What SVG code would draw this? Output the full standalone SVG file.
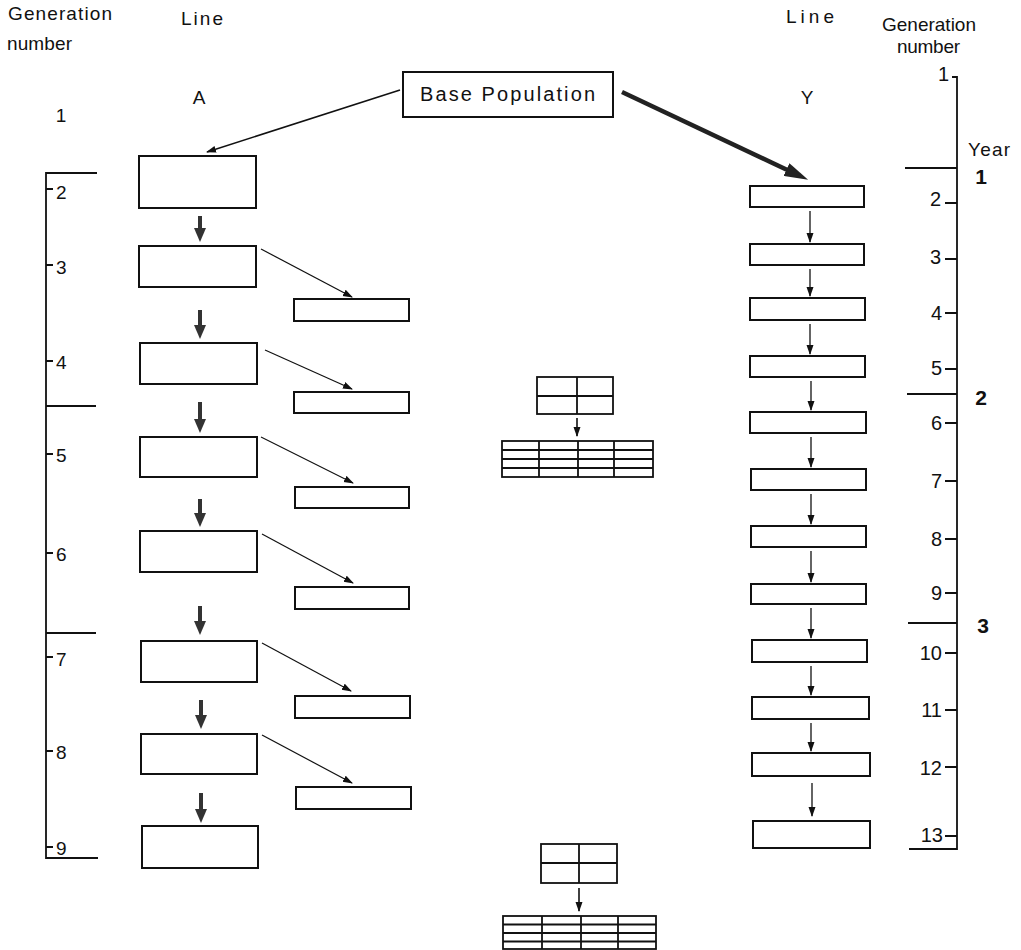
<svg xmlns="http://www.w3.org/2000/svg" width="1021" height="950" viewBox="0 0 1021 950">
<style>
.t{font-family:"Liberation Sans",Arial,sans-serif;fill:#111}
.lab{font-size:19px}
.num{font-size:19px}
.bold{font-size:21px;font-weight:bold}
.box{fill:#fff;stroke:#111;stroke-width:2}
.ax{stroke:#111;stroke-width:1.8;fill:none}
.thin{stroke:#111;stroke-width:1.2;fill:none}
.thick{stroke:#333;stroke-width:4;fill:none}
.grid{stroke:#111;stroke-width:1.8;fill:none}
</style>
<defs>
<marker id="mThin" markerUnits="userSpaceOnUse" markerWidth="10" markerHeight="8" refX="9" refY="3.5" orient="auto"><path d="M0,0 L10,3.5 L0,7 z" fill="#111"/></marker>
<marker id="mThick" markerUnits="userSpaceOnUse" markerWidth="14" markerHeight="12" refX="9" refY="6" orient="auto"><path d="M0,0 L14,6 L0,12 z" fill="#333"/></marker>
<marker id="mBig" markerUnits="userSpaceOnUse" markerWidth="24" markerHeight="14" refX="15" refY="7" orient="auto"><path d="M0,0 L24,7 L0,14 z" fill="#222"/></marker>
</defs>
<rect width="1021" height="950" fill="#fff"/>

<g id="headings">
<text class="t lab" x="8" y="20" textLength="104" lengthAdjust="spacing">Generation</text>
<text class="t lab" x="7" y="50" textLength="65" lengthAdjust="spacing">number</text>
<text class="t lab" x="181" y="25" textLength="42" lengthAdjust="spacing">Line</text>
<text class="t lab" x="199" y="104" text-anchor="middle">A</text>
<text class="t num" x="61" y="122" text-anchor="middle">1</text>
<text class="t lab" x="786" y="23" textLength="48" lengthAdjust="spacing">Line</text>
<text class="t lab" x="882" y="31" textLength="94" lengthAdjust="spacing">Generation</text>
<text class="t lab" x="897" y="53" textLength="63" lengthAdjust="spacing">number</text>
<text class="t lab" x="807" y="104" text-anchor="middle">Y</text>
<text class="t lab" x="968" y="156" textLength="42" lengthAdjust="spacing">Year</text>
<text class="t bold" x="981" y="184" text-anchor="middle">1</text>
<text class="t bold" x="981" y="405" text-anchor="middle">2</text>
<text class="t bold" x="983" y="633" text-anchor="middle">3</text>
</g>

<g id="base">
<rect class="box" x="403" y="72" width="210" height="45"/>
<text class="t" style="font-size:20px" x="420" y="101" textLength="175" lengthAdjust="spacing">Base Population</text>
</g>

<g id="left-axis">
<path class="ax" d="M97,173 H46 V858 H98 M46,406 H96 M46,633 H96"/>
<path class="ax" d="M46,189 H53 M46,265 H53 M46,361 H53 M46,454 H53 M46,553 H53 M46,657 H53 M46,751 H53 M46,847 H53"/>
<text class="t num" x="56" y="199">2</text>
<text class="t num" x="56" y="274">3</text>
<text class="t num" x="56" y="369">4</text>
<text class="t num" x="56" y="462">5</text>
<text class="t num" x="56" y="561">6</text>
<text class="t num" x="56" y="666">7</text>
<text class="t num" x="56" y="759">8</text>
<text class="t num" x="56" y="855">9</text>
</g>

<g id="right-axis">
<path class="ax" d="M952,77 H957 V849 H909 M905,168 H957 M907,394 H957 M908,623 H957"/>
<path class="ax" d="M945,203 H957 M945,259 H957 M945,313 H957 M945,369 H957 M945,423 H957 M945,481 H957 M945,539 H957 M945,593 H957 M945,653 H957 M945,710 H957 M945,767 H957 M945,836 H957"/>
<g class="t" style="font-size:20px" text-anchor="end">
<text x="949" y="81">1</text>
<text x="941" y="206">2</text>
<text x="941" y="264">3</text>
<text x="942" y="320">4</text>
<text x="942" y="375">5</text>
<text x="942" y="430">6</text>
<text x="942" y="488">7</text>
<text x="942" y="546">8</text>
<text x="942" y="600">9</text>
<text x="942" y="660">10</text>
<text x="942" y="717">11</text>
<text x="942" y="775">12</text>
<text x="943" y="842">13</text>
</g>
</g>

<g id="lineA">
<rect id="A2" class="box" x="139" y="156" width="117" height="52"/>
<rect id="A3" class="box" x="139" y="246" width="117" height="41"/>
<rect id="A4" class="box" x="140" y="343" width="117" height="41"/>
<rect id="A5" class="box" x="140" y="437" width="117" height="40"/>
<rect id="A6" class="box" x="140" y="531" width="117" height="41"/>
<rect id="A7" class="box" x="141" y="641" width="116" height="41"/>
<rect id="A8" class="box" x="141" y="734" width="116" height="40"/>
<rect id="A9" class="box" x="142" y="826" width="116" height="42"/>
</g>

<g id="side">
<rect id="S3" class="box" x="294" y="299" width="115" height="22"/>
<rect id="S4" class="box" x="294" y="392" width="115" height="21"/>
<rect id="S5" class="box" x="295" y="487" width="114" height="21"/>
<rect id="S6" class="box" x="295" y="587" width="114" height="22"/>
<rect id="S7" class="box" x="295" y="696" width="115" height="22"/>
<rect id="S8" class="box" x="296" y="787" width="115" height="22"/>
</g>

<g id="lineY">
<rect id="Y2" class="box" x="750" y="186" width="114" height="21"/>
<rect id="Y3" class="box" x="750" y="244" width="114" height="21"/>
<rect id="Y4" class="box" x="750" y="298" width="115" height="22"/>
<rect id="Y5" class="box" x="750" y="356" width="115" height="21"/>
<rect id="Y6" class="box" x="750" y="412" width="116" height="21"/>
<rect id="Y7" class="box" x="751" y="469" width="115" height="21"/>
<rect id="Y8" class="box" x="751" y="526" width="115" height="21"/>
<rect id="Y9" class="box" x="751" y="584" width="115" height="20"/>
<rect id="Y10" class="box" x="752" y="640" width="115" height="22"/>
<rect id="Y11" class="box" x="752" y="697" width="117" height="22"/>
<rect id="Y12" class="box" x="752" y="753" width="118" height="23"/>
<rect id="Y13" class="box" x="753" y="821" width="117" height="27"/>
</g>

<g id="grid1">
<rect class="grid" x="537" y="377" width="76" height="37"/>
<path class="grid" d="M577,377 V414 M537,396 H613"/>
<rect class="grid" x="502" y="441" width="151" height="36"/>
<path class="grid" d="M539,441 V477 M578,441 V477 M614,441 V477 M502,450 H653 M502,459 H653 M502,468 H653"/>
</g>
<g id="grid2">
<rect class="grid" x="541" y="844" width="76" height="39"/>
<path class="grid" d="M579,844 V883 M541,863 H617"/>
<rect class="grid" x="503" y="916" width="153" height="33"/>
<path class="grid" d="M542,916 V949 M581,916 V949 M618,916 V949 M503,924.5 H656 M503,933 H656 M503,941.5 H656"/>
</g>

<g id="connectors">
<line class="thin" style="stroke-width:1.6" x1="400" y1="90" x2="207" y2="152" marker-end="url(#mThin)"/>
<line class="thick" style="stroke:#222;stroke-width:4.5" x1="622" y1="92" x2="800" y2="176" marker-end="url(#mBig)"/>

<line class="thick" x1="200" y1="216" x2="200" y2="237" marker-end="url(#mThick)"/>
<line class="thick" x1="200" y1="310" x2="200" y2="334" marker-end="url(#mThick)"/>
<line class="thick" x1="200" y1="402" x2="200" y2="428" marker-end="url(#mThick)"/>
<line class="thick" x1="200" y1="499" x2="200" y2="522" marker-end="url(#mThick)"/>
<line class="thick" x1="200" y1="606" x2="200" y2="630" marker-end="url(#mThick)"/>
<line class="thick" x1="201" y1="700" x2="201" y2="724" marker-end="url(#mThick)"/>
<line class="thick" x1="201" y1="793" x2="201" y2="818" marker-end="url(#mThick)"/>

<line class="thin" x1="261" y1="249" x2="352" y2="297" marker-end="url(#mThin)"/>
<line class="thin" x1="265" y1="350" x2="352" y2="389" marker-end="url(#mThin)"/>
<line class="thin" x1="261" y1="437" x2="353" y2="483" marker-end="url(#mThin)"/>
<line class="thin" x1="262" y1="534" x2="353" y2="583" marker-end="url(#mThin)"/>
<line class="thin" x1="262" y1="643" x2="351" y2="691" marker-end="url(#mThin)"/>
<line class="thin" x1="262" y1="735" x2="352" y2="783" marker-end="url(#mThin)"/>

<g class="thin" style="stroke-width:1.3">
<line x1="810" y1="211" x2="810" y2="242" marker-end="url(#mThin)"/>
<line x1="810" y1="269" x2="810" y2="296" marker-end="url(#mThin)"/>
<line x1="810" y1="324" x2="810" y2="354" marker-end="url(#mThin)"/>
<line x1="811" y1="381" x2="811" y2="410" marker-end="url(#mThin)"/>
<line x1="811" y1="437" x2="811" y2="467" marker-end="url(#mThin)"/>
<line x1="811" y1="494" x2="811" y2="524" marker-end="url(#mThin)"/>
<line x1="811" y1="551" x2="811" y2="582" marker-end="url(#mThin)"/>
<line x1="811" y1="608" x2="811" y2="638" marker-end="url(#mThin)"/>
<line x1="811" y1="666" x2="811" y2="695" marker-end="url(#mThin)"/>
<line x1="811" y1="723" x2="811" y2="751" marker-end="url(#mThin)"/>
<line x1="812" y1="783" x2="812" y2="816" marker-end="url(#mThin)"/>
</g>
<line class="thin" style="stroke-width:1.6" x1="577" y1="418" x2="577" y2="436" marker-end="url(#mThin)"/>
<line class="thin" style="stroke-width:1.6" x1="579" y1="888" x2="579" y2="911" marker-end="url(#mThin)"/>
</g>
</svg>
